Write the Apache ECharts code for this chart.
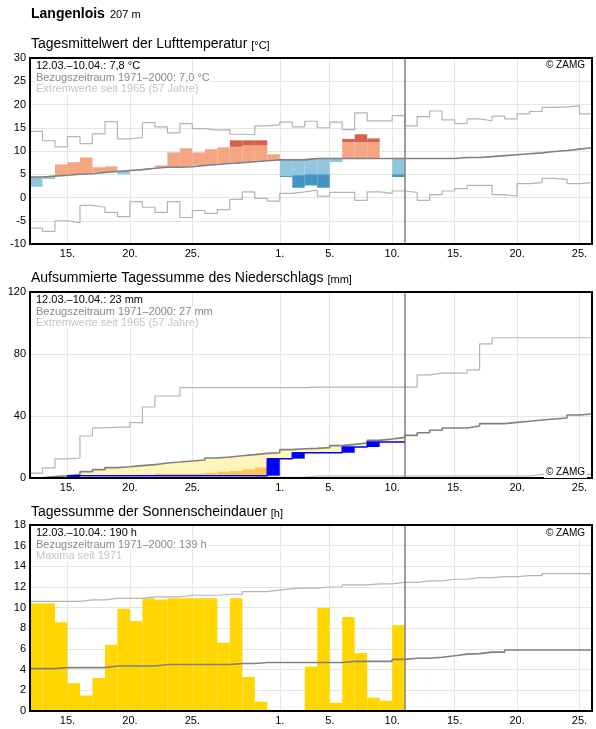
<!DOCTYPE html>
<html>
<head>
<meta charset="utf-8">
<script src="https://cdn.jsdelivr.net/npm/echarts@6/dist/echarts.min.js"></script>
<style>
  html, body { margin: 0; padding: 0; background: #fff; }
  #main { width: 596px; height: 729px; }
</style>
</head>
<body>
<div id="main"></div>
<script>
// Tage ab 12.03. (Index 0) bis 25.04. (Index 44)
const dayCount = 45;
const dayTicks = [3, 8, 13, 20, 24, 29, 34, 39, 44];
const dayLabels = ['15.', '20.', '25.', '1.', '5.', '10.', '15.', '20.', '25.'];

// Lufttemperatur [°C]
const tempMean = [2.3, 4.0, 7.1, 7.6, 8.6, 6.5, 6.7, 5.0, 6.0, 6.3,
  6.9, 9.7, 10.6, 9.7, 10.4, 10.8, 12.3, 12.3, 12.3, 9.3,
  4.4, 2.1, 2.6, 2.1, 7.6, 12.6, 13.6, 12.7, 8.4, 4.4];
const tempWarmLimit = [null, null, null, null, null, null, null, null, null, null,
  null, null, null, null, null, null, 10.9, 11.2, 11.2, null,
  null, null, null, null, null, 11.9, 11.9, 11.9, null, null];
const tempColdLimit = [null, null, null, null, null, null, null, null, null, null,
  null, null, null, null, null, null, null, null, null, null,
  4.6, 4.8, 5.0, 5.0, null, null, null, null, null, 5.0];
const tempNorm = [4.4, 4.6, 4.8, 5.0, 5.1, 5.4, 5.6, 5.8, 6.0, 6.3,
  6.5, 6.5, 6.6, 6.9, 7.1, 7.3, 7.5, 7.7, 7.9, 8.1,
  8.1, 8.1, 8.4, 8.4, 8.4, 8.4, 8.4, 8.4, 8.4, 8.4,
  8.4, 8.4, 8.4, 8.4, 8.6, 8.6, 8.8, 9.0, 9.2, 9.4,
  9.6, 9.9, 10.1, 10.4, 10.7];
const tempMax = [14.2, 12.2, 10.9, 13.1, 11.6, 13.7, 16.3, 12.6, 12.9, 16.1,
  15.2, 13.9, 15.9, 14.8, 14.5, 14.6, 13.6, 13.5, 15.4, 15.6,
  16.2, 15.2, 16.4, 15.0, 16.2, 14.6, 18.2, 16.5, 16.5, 17.6,
  15.4, 17.4, 18.6, 16.7, 15.9, 16.9, 16.5, 17.5, 16.9, 18.0,
  18.5, 19.4, 19.5, 19.7, 18.0];
const tempMin = [-6.6, -7.3, -5.0, -5.4, -1.7, -2.1, -3.2, -4.1, -0.9, -2.1,
  -3.2, -0.9, -4.3, -2.8, -3.4, -2.6, -0.4, 1.2, -0.2, -0.8,
  0.9, 1.2, 1.6, 0.3, 1.1, 1.1, -0.6, 1.2, 0.9, 1.4,
  1.1, -0.6, 0.6, 1.4, 1.9, 2.6, 2.6, 0.6, 0.3, 3.0,
  3.2, 4.1, 3.9, 3.0, 3.2];

// Niederschlag, aufsummiert [mm]
const precipSum = [0, 0, 0, 1.5, 1.5, 1.5, 1.5, 1.5, 1.5, 1.5,
  1.5, 1.5, 1.5, 1.5, 1.5, 1.5, 1.5, 1.5, 1.5, 12.5,
  12.5, 16.3, 16.3, 16.3, 16.3, 20.0, 20.0, 23.2, 23.2, 23.2];
const precipDryLimit = [null, 0.5, 0.6, null, null, null, null, null, 2.2, 2.2,
  2.8, 2.8, 2.8, 2.8, 3.4, 4.1, 4.5, 5.6, 6.9, null,
  null, null, null, null, null, null, null, null, null, null];
const precipNorm = [0.2, 0.9, 1.5, 2.2, 4.1, 5.4, 6.7, 7.3, 8.0, 8.6,
  9.7, 10.3, 11.0, 11.6, 12.9, 13.5, 14.4, 15.1, 15.9, 16.3,
  18.3, 18.9, 19.1, 19.6, 20.9, 21.7, 22.6, 24.3, 25.2, 26.2,
  27.5, 29.2, 30.8, 32.3, 32.3, 33.5, 35.1, 35.1, 35.9, 36.6,
  37.4, 38.1, 38.7, 40.6, 41.3];
const precipMax = [3.2, 6.5, 12.3, 12.9, 27.1, 32.3, 32.8, 32.8, 35.7, 45.8,
  52.9, 52.9, 58.3, 58.3, 58.3, 58.3, 58.3, 58.3, 58.3, 58.3,
  58.3, 58.3, 58.6, 58.6, 58.6, 58.6, 58.6, 58.6, 58.6, 58.6,
  58.6, 66.5, 67.7, 67.7, 67.7, 69.7, 86.5, 90.5, 90.5, 90.5,
  90.5, 90.5, 90.5, 90.5, 90.5];
const precipMin = [0, 0, 0, 0, 0, 0, 0, 0, 0, 0,
  0, 0, 0, 0, 0, 0, 0, 0.4, 0.4, 0.4,
  0.4, 0.4, 1.3, 1.3, 1.3, 1.3, 1.3, 1.3, 1.3, 1.3,
  1.3, 1.3, 1.3, 1.3, 1.3, 1.3, 1.3, 1.3, 1.3, 1.3,
  2.4, 2.4, 2.4, 2.4, 2.4];

// Sonnenscheindauer [h]
const sunHours = [10.4, 10.4, 8.6, 2.7, 1.5, 3.2, 6.4, 9.9, 8.7, 10.9,
  10.8, 10.9, 10.9, 10.9, 10.9, 6.6, 10.9, 3.3, 0.9, 0,
  0, 0, 4.3, 10.0, 0.8, 9.1, 5.6, 1.3, 1.0, 8.3];
const sunNorm = [4.1, 4.1, 4.2, 4.2, 4.2, 4.2, 4.35, 4.35, 4.35, 4.35,
  4.5, 4.5, 4.5, 4.5, 4.5, 4.5, 4.6, 4.6, 4.7, 4.7,
  4.7, 4.7, 4.7, 4.7, 4.7, 4.8, 4.8, 4.8, 4.8, 5.0,
  5.1, 5.1, 5.2, 5.35, 5.5, 5.55, 5.7, 5.7, 5.9, 5.9,
  5.9, 5.9, 5.9, 5.9, 5.9];
const sunMax = [10.6, 10.6, 10.6, 10.6, 10.75, 10.75, 10.9, 10.9, 10.9, 11.05,
  11.05, 11.05, 11.2, 11.2, 11.2, 11.3, 11.3, 11.55, 11.55, 11.7,
  11.85, 11.9, 11.9, 12.0, 12.0, 12.2, 12.2, 12.3, 12.3, 12.45,
  12.45, 12.6, 12.6, 12.75, 12.75, 12.9, 12.9, 13.0, 13.0, 13.1,
  13.1, 13.3, 13.3, 13.3, 13.3];

const FONT = 'Liberation Sans';
const panelTops = [58, 292, 525];
const today = tempMean.length;

// ---- Hilfsfunktionen ----
function stepData(vals) {
  const d = vals.map((v, i) => [i, v]);
  d.push([vals.length, vals[vals.length - 1]]);
  return d;
}

function stepLine(g, vals, color, width, z) {
  return {
    type: 'line', xAxisIndex: g, yAxisIndex: g, step: 'end', symbol: 'none',
    silent: true, data: stepData(vals), z: z || 3,
    lineStyle: { color: color, width: width }
  };
}

function renderBand(params, api) {
  const x = api.value(0);
  const a = api.coord([x, api.value(1)]);
  const b = api.coord([x + 1, api.value(2)]);
  return {
    type: 'rect',
    shape: { x: a[0], y: Math.min(a[1], b[1]), width: b[0] - a[0], height: Math.abs(b[1] - a[1]) },
    style: { fill: api.visual('color') }
  };
}

function bandSeries(g, data, color) {
  return {
    type: 'custom', xAxisIndex: g, yAxisIndex: g, renderItem: renderBand,
    data: data, encode: { x: 0, y: [1, 2] }, itemStyle: { color: color },
    silent: true, z: 2
  };
}

function todayLine() {
  return {
    silent: true, symbol: 'none', label: { show: false },
    lineStyle: { color: '#808080', width: 1.5, type: 'solid' },
    data: [{ xAxis: today }]
  };
}

// Temperatur: Abweichungsflächen
const warmLight = [], warmDark = [], coldLight = [], coldDark = [];
tempMean.forEach((t, i) => {
  const n = tempNorm[i], hi = tempWarmLimit[i], lo = tempColdLimit[i];
  if (t > n) {
    if (hi != null && t > hi) { warmLight.push([i, n, hi]); warmDark.push([i, hi, t]); }
    else warmLight.push([i, n, t]);
  } else if (t < n) {
    if (lo != null && t < lo) { coldLight.push([i, n, lo]); coldDark.push([i, lo, t]); }
    else coldLight.push([i, n, t]);
  }
});

// Niederschlag: Defizit und Tagesmengen
const dryLight = [], dryStrong = [], rainBars = [];
precipSum.forEach((s, i) => {
  const prev = i ? precipSum[i - 1] : 0;
  const n = precipNorm[i], lim = precipDryLimit[i];
  if (s < n) {
    if (lim != null && lim > s) { dryStrong.push([i, s, lim]); dryLight.push([i, lim, n]); }
    else dryLight.push([i, s, n]);
  }
  if (s > prev) rainBars.push([i, prev, s]);
});

const sunBars = [];
sunHours.forEach((h, i) => { if (h > 0) sunBars.push([i, 0, h]); });

// ---- Achsen ----
const grids = panelTops.map(top => ({
  left: 30, right: 4, top: top, height: 186,
  show: true, z: 10, borderColor: '#000', borderWidth: 2, backgroundColor: 'transparent'
}));

const xAxes = panelTops.map((t, g) => ({
  type: 'value', gridIndex: g, min: 0, max: dayCount,
  axisLine: { show: false },
  axisTick: { show: false, customValues: dayTicks },
  axisLabel: {
    customValues: dayTicks, color: '#000', fontSize: 11, fontFamily: FONT, margin: 4,
    formatter: v => dayLabels[dayTicks.indexOf(v)]
  },
  splitLine: { show: true, lineStyle: { color: '#e6e6e6', width: 1 } }
}));

function yAxis(g, min, max, interval) {
  return {
    type: 'value', gridIndex: g, min: min, max: max, interval: interval,
    axisLine: { show: false }, axisTick: { show: false },
    axisLabel: { color: '#000', fontSize: 11, fontFamily: FONT, margin: 4 },
    splitLine: { show: true, lineStyle: { color: '#e6e6e6', width: 1 } }
  };
}

// ---- Texte ----
function text(x, y, str, size, color, extra) {
  return {
    type: 'text', x: x, y: y, z: 100, silent: true,
    style: Object.assign({
      text: str, fontSize: size, fontFamily: FONT, fill: color,
      align: 'left', verticalAlign: 'middle'
    }, extra || {})
  };
}

function title(y, main, unit) {
  return text(31, y, '{t|' + main + '} {u|[' + unit + ']}', 14, '#000', {
    rich: {
      t: { fontSize: 14, fontFamily: FONT, fill: '#000' },
      u: { fontSize: 11, fontFamily: FONT, fill: '#000', verticalAlign: 'bottom' }
    }
  });
}

function info(top, lines) {
  const colors = ['#000', '#888', '#c4c4c4'];
  return lines.map((s, k) => text(35, top + 8 + k * 11.5, s, 11, colors[k],
    { backgroundColor: '#fff', padding: [0, 1] }));
}

function zamg(y) {
  return text(587, y, '© ZAMG', 10, '#000', { align: 'right', backgroundColor: '#fff', padding: [1, 2] });
}

const graphics = [
  text(31, 14, 'Langenlois', 14, '#000', { fontWeight: 'bold' }),
  text(110, 15, '207 m', 11, '#000'),
  title(44, 'Tagesmittelwert der Lufttemperatur', '°C'),
  title(278, 'Aufsummierte Tagessumme des Niederschlags', 'mm'),
  title(512, 'Tagessumme der Sonnenscheindauer', 'h'),
  zamg(65), zamg(472), zamg(533)
].concat(
  info(panelTops[0], ['12.03.–10.04.: 7,8 °C', 'Bezugszeitraum 1971–2000: 7,0 °C', 'Extremwerte seit 1965 (57 Jahre)']),
  info(panelTops[1], ['12.03.–10.04.: 23 mm', 'Bezugszeitraum 1971–2000: 27 mm', 'Extremwerte seit 1965 (57 Jahre)']),
  info(panelTops[2], ['12.03.–10.04.: 190 h', 'Bezugszeitraum 1971–2000: 139 h', 'Maxima seit 1971'])
);

// ---- Serien ----
const tempNormLine = stepLine(0, tempNorm, '#808080', 1.6, 4);
tempNormLine.markLine = todayLine();
const precipNormLine = stepLine(1, precipNorm, '#808080', 1.6, 4);
precipNormLine.markLine = todayLine();
const sunNormLine = stepLine(2, sunNorm, '#808080', 1.6, 4);
sunNormLine.markLine = todayLine();

const option = {
  animation: false,
  textStyle: { fontFamily: FONT },
  grid: grids,
  xAxis: xAxes,
  yAxis: [yAxis(0, -10, 30, 5), yAxis(1, 0, 120, 40), yAxis(2, 0, 18, 2)],
  graphic: graphics,
  series: [
    bandSeries(0, warmLight, '#f4a582'),
    bandSeries(0, warmDark, '#d6604d'),
    bandSeries(0, coldLight, '#92c5de'),
    bandSeries(0, coldDark, '#4393c3'),
    stepLine(0, tempMax, '#b4b4b4', 1.2),
    stepLine(0, tempMin, '#b4b4b4', 1.2),
    tempNormLine,

    bandSeries(1, dryLight, '#fff5bb'),
    bandSeries(1, dryStrong, '#fec44f'),
    bandSeries(1, rainBars, '#0000ff'),
    stepLine(1, precipMax, '#b4b4b4', 1.2),
    stepLine(1, precipMin, '#b4b4b4', 1.2),
    precipNormLine,
    stepLine(1, precipSum, '#0000ff', 1.5, 5),

    bandSeries(2, sunBars, '#ffd600'),
    stepLine(2, sunMax, '#b4b4b4', 1.2),
    sunNormLine
  ]
};

const chart = echarts.init(document.getElementById('main'));
chart.setOption(option);
</script>
</body>
</html>
